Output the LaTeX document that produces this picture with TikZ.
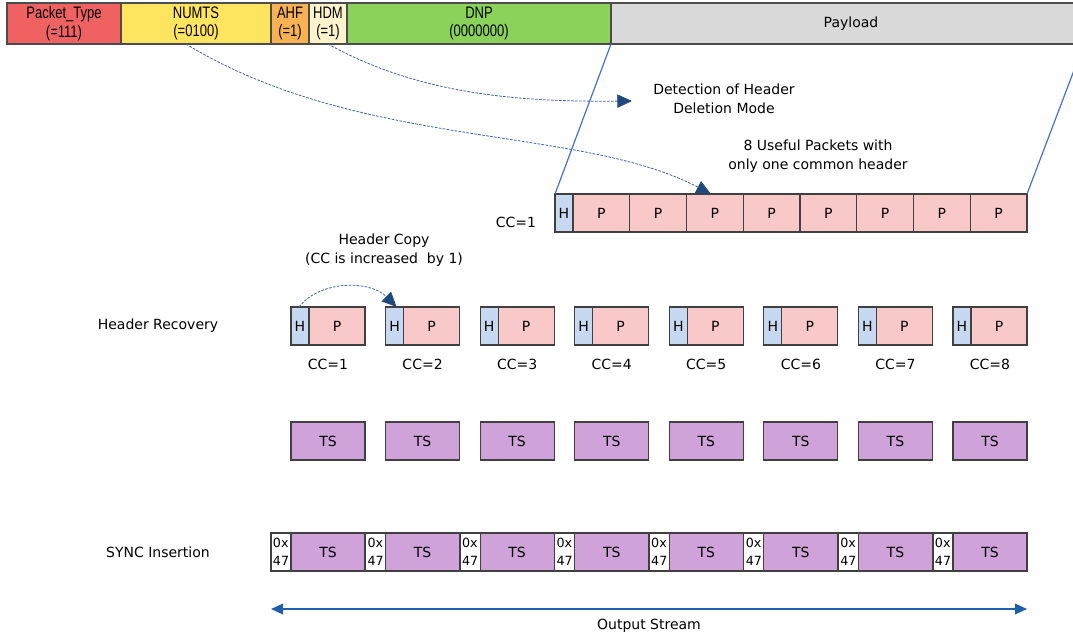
\documentclass[tikz,border=0pt]{standalone}
\usepackage{fontspec}
\setmainfont{DejaVu Sans}
\newfontfamily\fieldfont[FakeStretch=0.78]{Liberation Sans}
\usetikzlibrary{positioning,arrows.meta}
\definecolor{ptred}{HTML}{F06262}
\definecolor{numtsyel}{HTML}{FFE45F}
\definecolor{ahforg}{HTML}{F9B253}
\definecolor{hdmyel}{HTML}{FFF3CC}
\definecolor{dnpgrn}{HTML}{8AD25A}
\definecolor{paygray}{HTML}{D9D9D9}
\definecolor{hblue}{HTML}{C6D9F1}
\definecolor{ppink}{HTML}{F9C9C9}
\definecolor{tspur}{HTML}{CFA3DA}
\definecolor{arrblue}{HTML}{1F497D}
\definecolor{dashblue}{HTML}{3D64A8}
\definecolor{linblue}{HTML}{4472C4}
\definecolor{strblue}{HTML}{1F5FAD}
\newcommand{\pxl}{0.75pt}
\tikzset{
	field/.style={draw=black!70, line width=1.1pt, inner sep=0pt, outer sep=0pt, align=center,
		minimum height=41*\pxl, font=\fieldfont\fontsize{12.5}{14}\selectfont},
	cell/.style={draw=black!75, line width=0.8pt, inner sep=0pt, outer sep=0pt, minimum height=38*\pxl},
	hcell/.style={cell, fill=hblue, minimum width=18*\pxl},
	pcell/.style={cell, fill=ppink},
	tscell/.style={cell, fill=tspur, minimum width=74*\pxl},
	synccell/.style={cell, fill=white, minimum width=20*\pxl, align=left,
		font=\fontsize{9.5}{13.5}\selectfont},
	lbl/.style={align=center},
	copyarrow/.style={dashed, dash pattern=on 2pt off 1pt, dashblue, line width=0.6pt,
		-{Triangle[length=11pt, width=10pt, fill=arrblue, color=arrblue]}},
}
\begin{document}
\begin{tikzpicture}[x=0.75pt, y=-0.75pt, font=\fontsize{10.5}{14.5}\selectfont]
	\useasboundingbox (0,0) rectangle (1073,642);
	\clip (0,0) rectangle (1073,642);
	% header fields
	\node[field, fill=ptred, anchor=north west, minimum width=114*\pxl] (ptype) at (7,3) {Packet\_Type\\(=111)};
	\node[field, fill=numtsyel, right=0pt of ptype, minimum width=150*\pxl] (numts) {NUMTS\\(=0100)};
	\node[field, fill=ahforg, right=0pt of numts, minimum width=38*\pxl] (ahf) {AHF\\(=1)};
	\node[field, fill=hdmyel, right=0pt of ahf, minimum width=38*\pxl] (hdm) {HDM\\(=1)};
	\node[field, fill=dnpgrn, right=0pt of hdm, minimum width=264*\pxl] (dnp) {DNP\\(0000000)};
	\node[field, fill=paygray, right=0pt of dnp, minimum width=480*\pxl, font=\fontsize{10.5}{14}\selectfont] (pay) {Payload};
	% packet with one common header
	\node[hcell, anchor=north west] (p00) at (555,194) {H};
	\foreach \i [remember=\i as \j (initially 0)] in {1,...,8}
		\node[pcell, minimum width=56.75*\pxl, right=0pt of p0\j] (p0\i) {P};
	\node[lbl] (cc0) at (516,222) {CC=1};
	\draw[linblue, line width=0.9pt] (dnp.south east) -- (p00.north west);
	\coordinate (payend) at (1084,44);
	\draw[linblue, line width=0.9pt] (payend) -- (p08.north east);
	\node[lbl] (detect) at (724,99) {Detection of Header\\Deletion Mode};
	\node[lbl] (useful) at (818,156) {8 Useful Packets with\\only one common header};
	\coordinate (detarr) at (632,101);
	\draw[copyarrow] ([xshift=-10*\pxl]numts.south) .. controls (360,150) and (580,125) .. ([xshift=-4*\pxl]p03.north);
	\draw[copyarrow] (hdm.south) .. controls (420,95) and (520,102) .. (detarr);
	% header recovery, TS and sync rows
	\node[lbl] (hrec) at (158,326) {Header Recovery};
	\node[lbl] (sync) at (158,552) {SYNC Insertion};
	\foreach \i in {1,...,8} {
		\pgfmathsetmacro\x{291+(\i-1)*94.57}
		\node[hcell, anchor=north west] (h\i) at (\x,307) {H};
		\node[pcell, minimum width=56*\pxl, right=0pt of h\i] (p\i) {P};
		\node[lbl] (cc\i) at (\x+37,364) {CC=\i};
		\node[tscell, anchor=north west] (ts\i) at (\x,422) {TS};
		\node[synccell, anchor=north east] (s\i) at (\x,533) {0x\\47};
		\node[tscell, right=0pt of s\i] (t\i) {TS};
	}
	\node[lbl] (hcopy) at (384,250) {Header Copy\\(CC is increased~ by 1)};
	\draw[copyarrow] ([xshift=-1*\pxl]h1.north) .. controls (320,280) and (370,280) .. ([xshift=2*\pxl]h2.north);
	% output stream
	\draw[strblue, line width=0.9pt, {Triangle[length=9pt, width=8pt]}-{Triangle[length=9pt, width=8pt]}]
		([yshift=-38*\pxl]s1.south west) -- ([yshift=-38*\pxl]t8.south east) node[midway, below=5*\pxl, black] (outs) {Output Stream};
\end{tikzpicture}
\end{document}
